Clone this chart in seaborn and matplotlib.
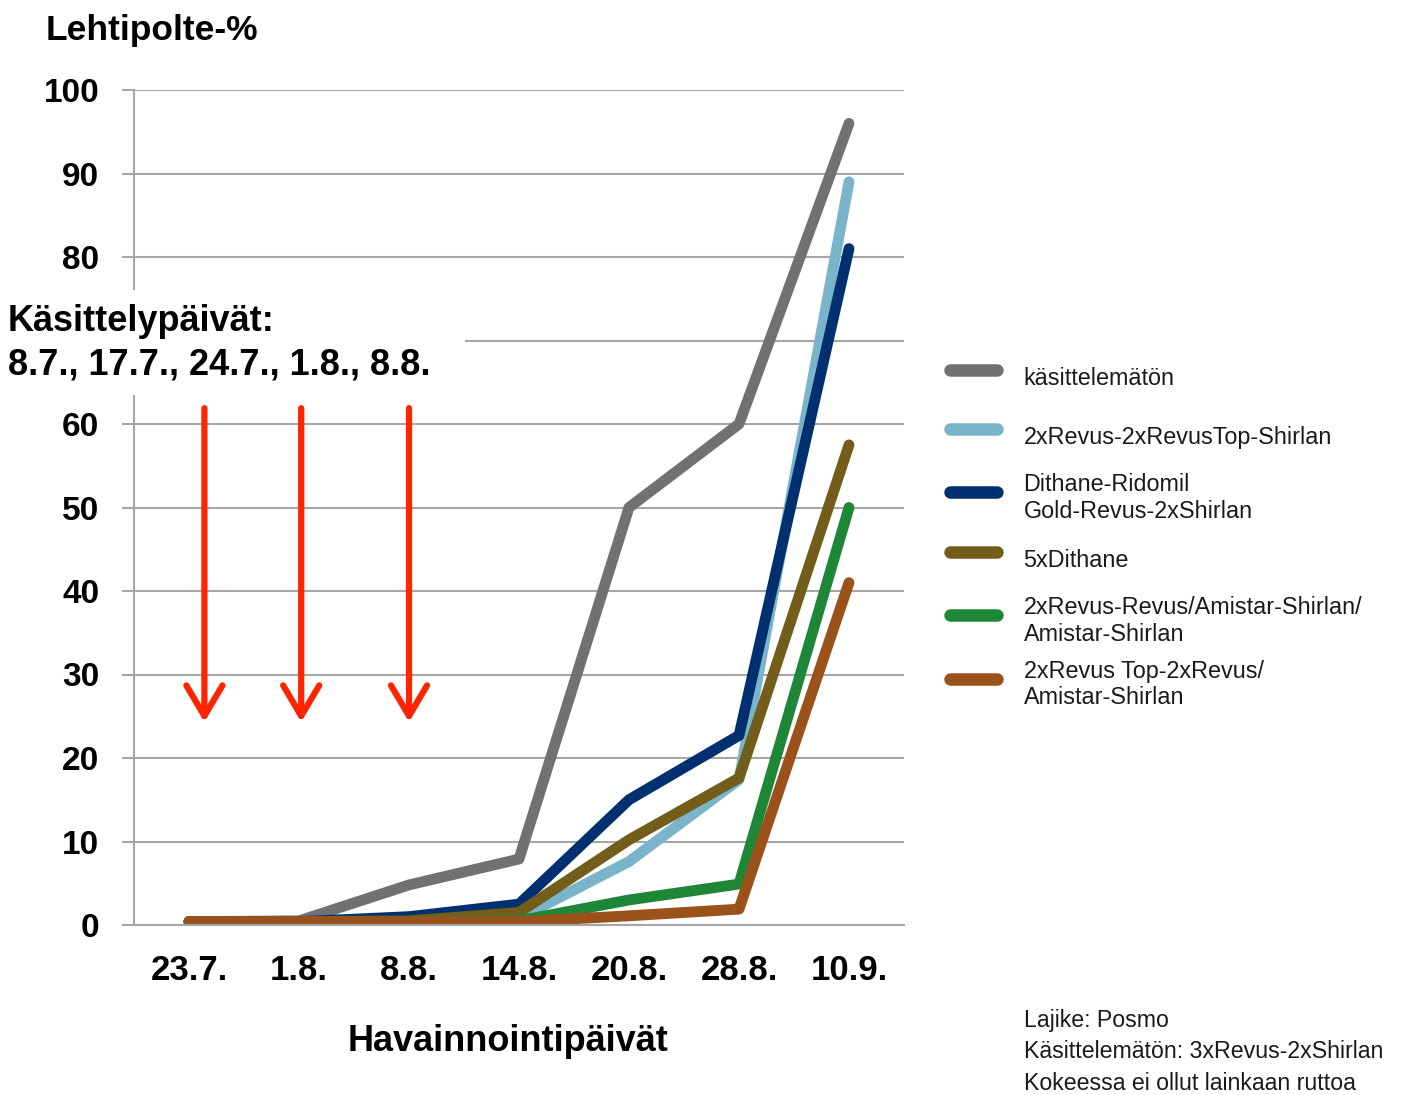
import numpy as np
import pandas as pd
import matplotlib
matplotlib.use("Agg")
import matplotlib.pyplot as plt
from matplotlib.patches import Rectangle
import seaborn as sns

# observation dates and leaf blight % per treatment
dates = ["23.7.", "1.8.", "8.8.", "14.8.", "20.8.", "28.8.", "10.9."]
series_names = [
    "käsittelemätön",
    "2xRevus-2xRevusTop-Shirlan",
    "Dithane-Ridomil\nGold-Revus-2xShirlan",
    "5xDithane",
    "2xRevus-Revus/Amistar-Shirlan/\nAmistar-Shirlan",
    "2xRevus Top-2xRevus/\nAmistar-Shirlan",
]
untreated = [0.4, 0.5, 4.8, 7.9, 50, 60, 96]
revus_top = [0.4, 0.4, 0.5, 0.8, 7.6, 17.4, 89]
dithane_ridomil = [0.4, 0.4, 1.0, 2.5, 15, 22.7, 81]
dithane5 = [0.4, 0.4, 0.5, 1.5, 10.2, 17.6, 57.5]
revus_amistar = [0.4, 0.4, 0.4, 0.5, 3.0, 4.9, 50]
revustop_amistar = [0.4, 0.4, 0.4, 0.4, 1.1, 1.9, 41]
colors = ["#717171", "#7AB4CB", "#003070", "#725E1A", "#1E8637", "#9A521A"]

spray_x = [0.14, 1.02, 2.0]      # arrow positions (category index)
spray_y = (61.9, 24.3)           # arrow start / tip
notes = ["Lajike: Posmo",
         "Käsittelemätön: 3xRevus-2xShirlan",
         "Kokeessa ei ollut lainkaan ruttoa"]

all_vals = [untreated, revus_top, dithane_ridomil, dithane5, revus_amistar, revustop_amistar]
df = pd.concat(
    [pd.DataFrame({"pos": np.arange(len(dates)), "val": v, "series": n})
     for n, v in zip(series_names, all_vals)],
    ignore_index=True,
)

sns.set_style("white")
plt.rcParams["font.family"] = ["Liberation Sans", "DejaVu Sans"]
plt.rcParams["text.color"] = "black"

W, H = 1402, 1095
fig = plt.figure(figsize=(W / 100, H / 100), dpi=100)
ax = fig.add_axes([134 / W, 1 - 925 / H, 770 / W, 835 / H])

grid_c = "#A6A6A6"
sns.lineplot(data=df, x="pos", y="val", hue="series", hue_order=series_names,
             palette=colors, linewidth=7.8, sort=False, ax=ax,
             solid_capstyle="round")

yt = np.arange(0, 101, 10)
ax.set_xlim(-0.5, len(dates) - 0.5)
ax.set_ylim(0, 100)
ax.set_yticks(yt)
# the 70 label sits under the white note box in the original
ax.set_yticklabels(["" if v == 70 else str(v) for v in yt], fontsize=24, fontweight="bold")
ax.set_xticks(np.arange(len(dates)))
ax.set_xticklabels(dates, fontsize=25, fontweight="bold")
ax.set_xticks(np.arange(-0.5, len(dates), 1), minor=True)
ax.tick_params(axis="x", which="major", length=0, pad=21, labelcolor="black")
ax.tick_params(axis="x", which="minor", length=9, width=1.5, color=grid_c, direction="out")
ax.tick_params(axis="y", length=9, width=1.5, color=grid_c, direction="out", pad=16,
               left=True, labelcolor="black")
ax.yaxis.grid(True, color=grid_c, linewidth=1.5)
ax.set_axisbelow(True)
for s in ["top", "right"]:
    ax.spines[s].set_visible(False)
for s in ["left", "bottom"]:
    ax.spines[s].set_color(grid_c)
    ax.spines[s].set_linewidth(1.5)

ax.set_ylabel("")
ax.set_xlabel("Havainnointipäivät", fontsize=26, fontweight="bold", color="black")
ax.xaxis.set_label_coords((508 - 134) / 770, (925 - 1024) / 835)
ax.xaxis.label.set_va("top")

# spray date arrows
for x in spray_x:
    ax.annotate("", xy=(x, spray_y[1]), xytext=(x, spray_y[0]),
                arrowprops=dict(arrowstyle="->,head_length=1.1,head_width=0.65",
                                color="#FF2400", lw=4.5, mutation_scale=20,
                                shrinkA=0, shrinkB=0))

sns.move_legend(ax, "upper left", bbox_to_anchor=(950 / W, 1 - 355 / H),
                bbox_transform=fig.transFigure, frameon=False, title=None,
                fontsize=16.8, handlelength=2.0, handleheight=2.6,
                labelspacing=0.6, handletextpad=1.15, borderpad=0,
                borderaxespad=0)
for t in ax.get_legend().get_texts():
    t.set_color("#1a1a1a")
for h in ax.get_legend().legend_handles:
    h.set_linewidth(9)

fig.text(46 / W, 1 - 14 / H, "Lehtipolte-%", fontsize=25.5, fontweight="bold", va="top")

fig.add_artist(Rectangle((0, 1 - 395 / H), 465 / W, 105 / H, transform=fig.transFigure,
                         facecolor="white", edgecolor="none", zorder=2))
fig.text(8 / W, 1 - 304 / H, "Käsittelypäivät:\n8.7., 17.7., 24.7., 1.8., 8.8.",
         fontsize=26, fontweight="bold", va="top", linespacing=1.3, zorder=3)

for i, line in enumerate(notes):
    fig.text(1024 / W, 1 - (1020 + 32 * i) / H, line, fontsize=16.7,
             color="#1a1a1a", va="center")

fig.savefig("out.png", dpi=100)
